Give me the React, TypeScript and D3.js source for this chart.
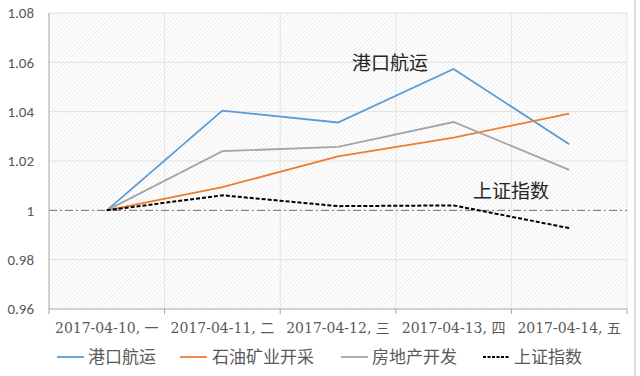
import React from "react";
import * as d3 from "d3";

const categories = ["2017-04-10, 一", "2017-04-11, 二", "2017-04-12, 三", "2017-04-13, 四", "2017-04-14, 五"];
const port = [1.0, 1.0404, 1.0356, 1.0573, 1.0268];
const oil = [1.0, 1.0094, 1.0219, 1.0295, 1.0392];
const realty = [1.0, 1.024, 1.0257, 1.0358, 1.0164];
const sse = [1.0, 1.0061, 1.0017, 1.002, 0.9928];
const seriesNames = ["港口航运", "石油矿业开采", "房地产开发", "上证指数"];
const yTicks = [0.96, 0.98, 1.0, 1.02, 1.04, 1.06, 1.08];
const yTickLabels = ["0.96", "0.98", "1", "1.02", "1.04", "1.06", "1.08"];

const W = 640, H = 376;
const L = 49, R = 627, T = 13, B = 309;

export default function App() {
  const x = d3.scaleBand<string>().domain(categories).range([L, R]);
  const y = d3.scaleLinear().domain([0.96, 1.08]).range([B, T]);
  const line = d3.line<number>()
    .x((_, i) => (x(categories[i]) as number) + x.bandwidth() / 2)
    .y((d) => y(d));

  const series = [
    { name: seriesNames[0], data: port, color: "#5b9bd5", dash: "" },
    { name: seriesNames[1], data: oil, color: "#ed7d31", dash: "" },
    { name: seriesNames[2], data: realty, color: "#a5a5a5", dash: "" },
    { name: seriesNames[3], data: sse, color: "#000000", dash: "4,2" },
  ];
  const boundaries = categories.map((c) => x(c) as number).concat([R]);
  const legend = [
    { lx: 57, tx: 88 },
    { lx: 180, tx: 212 },
    { lx: 341, tx: 372 },
    { lx: 483, tx: 514 },
  ];
  const serif = "'DejaVu Serif', 'Liberation Serif', 'Noto Sans CJK SC', serif";
  const sans = "Calibri, 'Liberation Sans', 'Noto Sans', sans-serif";

  return (
    <svg width={W} height={H} style={{ position: "absolute", left: 0, top: 0, background: "#fff" }}>
      <defs>
        <pattern id="hatch" width="3" height="3" patternUnits="userSpaceOnUse" patternTransform="rotate(45)">
          <line x1="0" y1="0" x2="0" y2="3" stroke="#dedede" strokeWidth="1" />
        </pattern>
      </defs>
      <rect x={0} y={0} width={W} height={H} fill="#fff" />
      <rect x={L} y={T} width={R - L} height={B - T} fill="url(#hatch)" />
      {yTicks.filter((t) => t !== 1.0 && t !== 0.96).map((t) => (
        <line key={t} x1={L} x2={R} y1={y(t)} y2={y(t)} stroke="#e0e0e0" strokeWidth={1} />
      ))}
      {boundaries.slice(1).map((bx, i) => (
        <line key={i} x1={bx} x2={bx} y1={T} y2={B} stroke="#e4e4e4" strokeWidth={1} />
      ))}
      <line x1={L} x2={R} y1={y(1)} y2={y(1)} stroke="#6e6e6e" strokeWidth={1} strokeDasharray="8,3,2,3" />
      <line x1={L} x2={L} y1={T} y2={B} stroke="#a6a6a6" strokeWidth={1} />
      <line x1={L} x2={R} y1={B} y2={B} stroke="#a6a6a6" strokeWidth={1} />
      {boundaries.map((bx, i) => (
        <line key={i} x1={bx} x2={bx} y1={B} y2={B + 5} stroke="#a6a6a6" strokeWidth={1} />
      ))}
      {yTicks.map((t, i) => (
        <text key={t} x={34} y={y(t)} dy="0.35em" textAnchor="end" fontFamily={sans} fontSize={15} fill="#595959">
          {yTickLabels[i]}
        </text>
      ))}
      {categories.map((c) => (
        <text key={c} x={(x(c) as number) + x.bandwidth() / 2} y={333} textAnchor="middle" fontFamily={serif} fontSize={14} fill="#595959">
          {c}
        </text>
      ))}
      {series.map((s) => (
        <path key={s.name} d={line(s.data) || ""} fill="none" stroke={s.color} strokeWidth={s.dash ? 2 : 1.8} strokeDasharray={s.dash || undefined} />
      ))}
      <text x={352} y={63} dy="0.35em" fontFamily={serif} fontSize={19} fill="#262626">{seriesNames[0]}</text>
      <text x={473} y={191} dy="0.35em" fontFamily={serif} fontSize={19} fill="#262626">{seriesNames[3]}</text>
      {series.map((s, i) => (
        <g key={s.name}>
          <line x1={legend[i].lx} x2={legend[i].lx + 27} y1={357} y2={357} stroke={s.color} strokeWidth={s.dash ? 2 : 1.8} strokeDasharray={s.dash ? "3,1.5" : undefined} />
          <text x={legend[i].tx} y={357} dy="0.35em" fontFamily={serif} fontSize={17} fill="#595959">{s.name}</text>
        </g>
      ))}
      <line x1={635} x2={635} y1={0} y2={H} stroke="#bfbfbf" strokeWidth={1} />
    </svg>
  );
}
